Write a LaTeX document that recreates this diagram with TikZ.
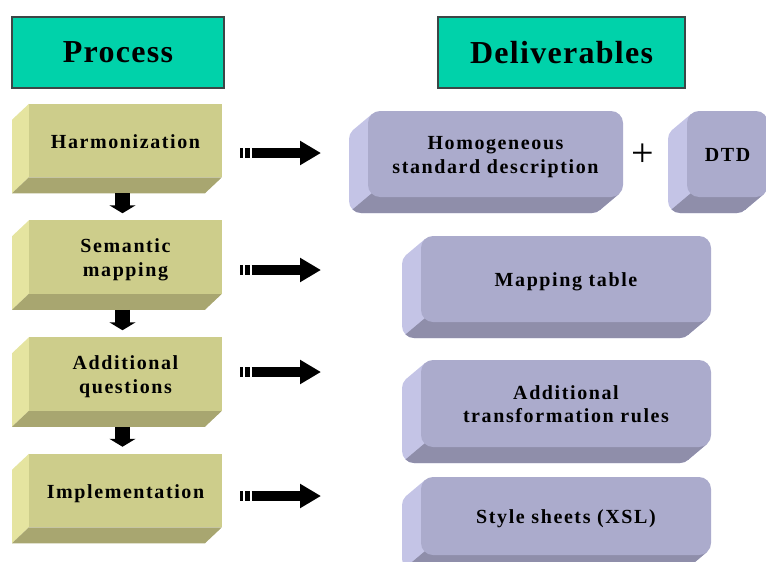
\documentclass[tikz,border=0pt]{standalone}
\usepackage{fontspec}
\setmainfont{Liberation Serif}
\newfontfamily\hdfont[LetterSpace=4]{Liberation Serif}
\newfontfamily\bdfont[LetterSpace=8]{Liberation Serif}
\usetikzlibrary{arrows.meta,calc}
\pgfdeclarelayer{bg}
\pgfsetlayers{bg,main}
\definecolor{hdcol}{RGB}{0,210,170}
\definecolor{hdline}{RGB}{60,70,70}
\definecolor{yfront}{RGB}{205,205,139}
\definecolor{yleft}{RGB}{229,228,160}
\definecolor{ybot}{RGB}{168,166,112}
\definecolor{pfront}{RGB}{171,171,204}
\definecolor{pleft}{RGB}{196,196,230}
\definecolor{pbot}{RGB}{143,142,170}
\newcommand\hdtext{\hdfont\bfseries\fontsize{32}{38}\selectfont}
\newcommand\bdtext{\bdfont\bfseries\fontsize{20}{23.5}\selectfont}
\newcommand\firstln{\rule{0pt}{22.5pt}\strut}
% yellow bevel: left and bottom faces, extrusion (-17,16)
\newcommand\ybevel[1]{%
  \begin{pgfonlayer}{bg}
    \fill[yleft] (#1.north west) -- ++(-17,16) -- ($(#1.south west)+(-17,16)$) -- (#1.south west) -- cycle;
    \fill[ybot] (#1.south west) -- ++(-17,16) -- ($(#1.south east)+(-17,16)$) -- (#1.south east) -- cycle;
  \end{pgfonlayer}}
% purple bevel: rounded solid, extrusion (-19,16)
\newcommand\pbevel[1]{%
  \begin{pgfonlayer}{bg}
    \fill[pleft, rounded corners=12] ($(#1.north west)+(-19,16)$) rectangle ($(#1.south east)+(-19,16)$);
    \fill[pleft] ($(#1.north west)+(4.27,2.82)$) -- ++(-19,16) -- ($(#1.south east)+(-23.27,13.18)$) -- ($(#1.south east)+(-4.27,-2.82)$) -- cycle;
    \begin{scope}
      \clip ($(#1.south west)+(383.5,-323.5)$) -- ($(#1.south west)+(-376.5,316.5)$) -- ++(480,570) -- ++(760,-640) -- cycle;
      \fill[pbot, rounded corners=12] ($(#1.north west)+(-19,16)$) rectangle ($(#1.south east)+(-19,16)$);
      \fill[pbot] ($(#1.north west)+(4.27,2.82)$) -- ++(-19,16) -- ($(#1.south east)+(-23.27,13.18)$) -- ($(#1.south east)+(-4.27,-2.82)$) -- cycle;
    \end{scope}
  \end{pgfonlayer}}
\begin{document}
\begin{tikzpicture}[x=1pt,y=-1pt,
  hdbox/.style={draw=hdline, line width=1.2pt, fill=hdcol, font=\hdtext, inner sep=0pt, minimum height=71},
  yface/.style={fill=yfront, inner sep=0pt, outer sep=0pt, align=center, font=\bdtext, minimum width=193, minimum height=73.5},
  pface/.style={fill=pfront, rounded corners=12, inner sep=0pt, outer sep=0pt, align=center, font=\bdtext, minimum height=86},
  downarrow/.style={line width=15pt, -{Triangle[width=26pt,length=8pt]}},
  rightarrow/.style={line width=9.4pt, -{Triangle[width=23pt,length=21pt]}},
  bar/.style={fill=black}
]
\useasboundingbox (0,0) rectangle (766,562);

% headers
\node[hdbox, minimum width=212] (proc) at (118,52.5) {Process};
\node[hdbox, minimum width=247] (deliv) at (561.5,52.5) {Deliverables};

% process steps
\node[yface] (harm) at (125.5,140.5) {\firstln Harmonization};
\node[yface] (sem)  at (125.5,257)   {\firstln Semantic\strut\\mapping\strut};
\node[yface] (addq) at (125.5,374)   {\firstln Additional\strut\\questions\strut};
\node[yface] (impl) at (125.5,490.5) {\firstln Implementation};
\ybevel{harm}\ybevel{sem}\ybevel{addq}\ybevel{impl}

% down arrows
\draw[downarrow] ($(harm.south)+(-3,16)$) -- ($(sem.north)+(-3,-7)$);
\draw[downarrow] ($(sem.south)+(-3,16)$) -- ($(addq.north)+(-3,-7)$);
\draw[downarrow] ($(addq.south)+(-3,16)$) -- ($(impl.north)+(-3,-7)$);

% deliverables
\node[pface, minimum width=255] (hom) at (495.5,154) {\firstln Homogeneous\strut\\standard description\strut};
\node[pface, minimum width=81, minimum height=86] (dtd) at (727.5,154) {\firstln DTD};
\node[pface, minimum width=290] (map) at (566,279) {\firstln Mapping table};
\node[pface, minimum width=290, minimum height=87] (rules) at (566,403.5) {\firstln Additional\strut\\transformation rules\strut};
\node[pface, minimum width=290, minimum height=78] (xsl) at (566,516) {\firstln Style sheets (XSL)};
\pbevel{hom}\pbevel{dtd}\pbevel{map}\pbevel{rules}\pbevel{xsl}

\node[font=\fontsize{40}{40}\selectfont, inner sep=0pt] (plus) at (643,155) {+};

% right arrows
\foreach \n/\y in {1/153,2/270,3/372,4/496}{
  \coordinate (r\n s) at (251.7,\y);
  \coordinate (r\n e) at (321,\y);
  \fill[bar] ($(r\n s)+(-11.7,-4.7)$) rectangle ++(3.3,9.4);
  \fill[bar] ($(r\n s)+(-6.7,-4.7)$) rectangle ++(5,9.4);
  \draw[rightarrow] (r\n s) -- (r\n e);
}
\end{tikzpicture}
\end{document}
